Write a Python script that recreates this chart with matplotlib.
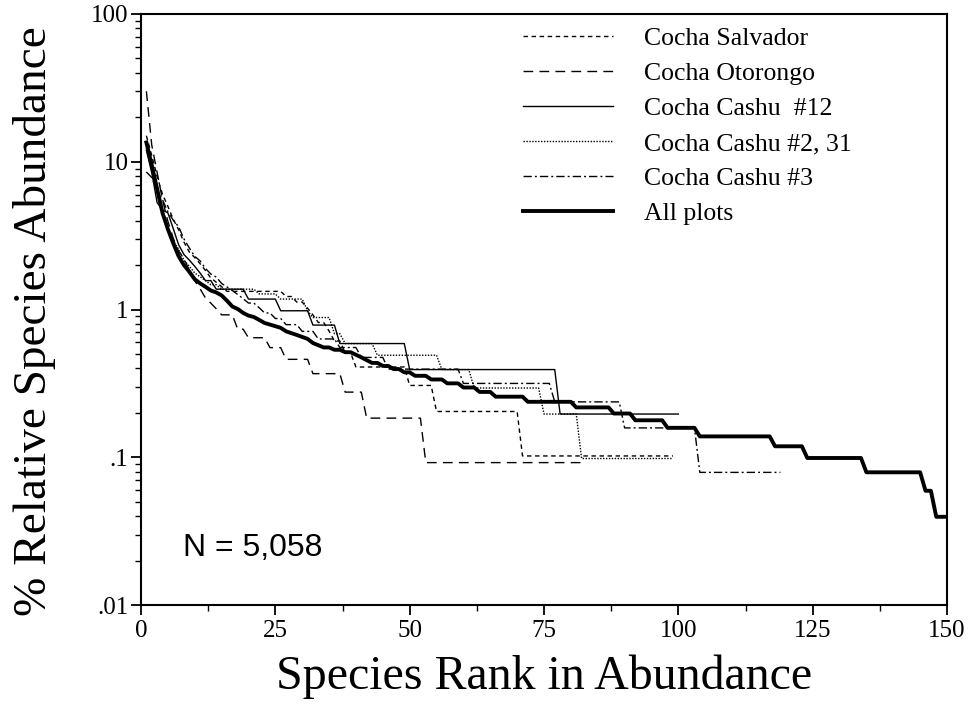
import matplotlib
matplotlib.use("Agg")
import matplotlib.pyplot as plt
import numpy as np
from matplotlib.ticker import FixedLocator, NullFormatter, MultipleLocator

# ---------------- data (individuals per species, ranked) ----------------
salvador_total = 980
salvador_counts = [147, 108, 78, 59, 49, 40, 34, 28, 24, 22,
                   20, 18, 16, 15, 14, 13, 13, 13, 13, 13,
                   13, 13, 13, 13, 13, 13, 12, 12, 11, 11,
                   10, 9, 8, 8, 7, 6, 6, 5, 5, 4,
                   4, 4, 4, 4, 4, 4, 4, 4, 4, 3,
                   3, 3, 3, 3, 2, 2, 2, 2, 2, 2,
                   2, 2, 2, 2, 2, 2, 2, 2, 2, 2,
                   1, 1, 1, 1, 1, 1, 1, 1, 1, 1,
                   1, 1, 1, 1, 1, 1, 1, 1, 1, 1,
                   1, 1, 1, 1, 1, 1, 1, 1, 1]

otorongo_total = 1087
otorongo_counts = [326, 141, 92, 60, 43, 33, 27, 24, 20, 17,
                   15, 13, 12, 11, 10, 10, 10, 8, 8, 7,
                   7, 7, 7, 6, 6, 6, 5, 5, 5, 5,
                   5, 4, 4, 4, 4, 4, 4, 3, 3, 3,
                   3, 2, 2, 2, 2, 2, 2, 2, 2, 2,
                   2, 2, 1, 1, 1, 1, 1, 1, 1, 1,
                   1, 1, 1, 1, 1, 1, 1, 1, 1, 1,
                   1, 1, 1, 1, 1, 1, 1, 1, 1, 1,
                   1, 1]

cashu12_total = 510
cashu12_counts = [61, 43, 27, 24, 23, 18, 14, 12, 11, 10,
                  9, 8, 8, 7, 7, 7, 7, 7, 7, 6,
                  6, 6, 6, 6, 6, 5, 5, 5, 5, 5,
                  5, 4, 4, 4, 4, 4, 3, 3, 3, 3,
                  3, 3, 3, 3, 3, 3, 3, 3, 3, 2,
                  2, 2, 2, 2, 2, 2, 2, 2, 2, 2,
                  2, 2, 2, 2, 2, 2, 2, 2, 2, 2,
                  2, 2, 2, 2, 2, 2, 2, 1, 1, 1,
                  1, 1, 1, 1, 1, 1, 1, 1, 1, 1,
                  1, 1, 1, 1, 1, 1, 1, 1, 1, 1]

cashu231_total = 1020
cashu231_counts = [133, 92, 66, 46, 36, 30, 26, 22, 20, 18,
                   17, 16, 15, 15, 14, 14, 14, 14, 14, 14,
                   14, 13, 13, 13, 13, 12, 12, 12, 12, 12,
                   10, 9, 9, 9, 9, 7, 7, 6, 6, 6,
                   6, 6, 6, 5, 5, 5, 5, 5, 5, 5,
                   5, 5, 5, 5, 5, 4, 4, 4, 4, 4,
                   4, 3, 3, 3, 3, 3, 3, 3, 3, 3,
                   3, 3, 3, 3, 2, 2, 2, 2, 2, 2,
                   2, 1, 1, 1, 1, 1, 1, 1, 1, 1,
                   1, 1, 1, 1, 1, 1, 1, 1, 1]

cashu3_total = 1266
cashu3_counts = [108, 99, 82, 70, 58, 51, 46, 38, 33, 29,
                 27, 24, 22, 21, 19, 18, 17, 16, 15, 14,
                 14, 13, 12, 12, 11, 11, 10, 10, 10, 9,
                 9, 9, 8, 8, 8, 8, 7, 7, 7, 7,
                 6, 6, 6, 6, 6, 5, 5, 5, 5, 5,
                 5, 5, 5, 5, 5, 5, 5, 5, 5, 4,
                 4, 4, 4, 4, 4, 4, 4, 4, 4, 4,
                 4, 4, 4, 4, 4, 4, 3, 3, 3, 3,
                 3, 3, 3, 3, 3, 3, 3, 3, 3, 2,
                 2, 2, 2, 2, 2, 2, 2, 2, 2, 2,
                 2, 2, 2, 1, 1, 1, 1, 1, 1, 1,
                 1, 1, 1, 1, 1, 1, 1, 1, 1]

all_total = 5058
all_counts = [683, 480, 330, 228, 177, 142, 116, 101, 91, 81,
              76, 72, 68, 66, 63, 58, 53, 51, 48, 46,
              45, 43, 41, 40, 39, 38, 36, 35, 34, 33,
              32, 30, 29, 28, 28, 27, 27, 26, 26, 25,
              24, 23, 22, 22, 21, 21, 20, 20, 19, 19,
              18, 18, 18, 17, 17, 17, 16, 16, 16, 15,
              15, 15, 14, 14, 14, 13, 13, 13, 13, 13,
              13, 12, 12, 12, 12, 12, 12, 12, 12, 12,
              11, 11, 11, 11, 11, 11, 11, 10, 10, 10,
              10, 9, 9, 9, 9, 9, 9, 8, 8, 8,
              8, 8, 8, 7, 7, 7, 7, 7, 7, 7,
              7, 7, 7, 7, 7, 7, 7, 6, 6, 6,
              6, 6, 6, 5, 5, 5, 5, 5, 5, 5,
              5, 5, 5, 5, 4, 4, 4, 4, 4, 4,
              4, 4, 4, 4, 4, 3, 3, 2, 2, 2]

series_labels = ["Cocha Salvador", "Cocha Otorongo", "Cocha Cashu  #12",
                 "Cocha Cashu #2, 31", "Cocha Cashu #3", "All plots"]
series_counts = [salvador_counts, otorongo_counts, cashu12_counts,
                 cashu231_counts, cashu3_counts, all_counts]
series_totals = [salvador_total, otorongo_total, cashu12_total,
                 cashu231_total, cashu3_total, all_total]

y_ticks = [0.01, 0.1, 1, 10, 100]
y_ticklabels = [".01", ".1", "1", "10", "100"]
x_ticks = [0, 25, 50, 75, 100, 125, 150]
n_label = "N = 5,058"

# ---------------- styles ----------------
styles = [
    dict(ls=(0, (3.2, 2.6)), lw=1.0),
    dict(ls=(0, (7, 4.5)), lw=1.0),
    dict(ls="-", lw=1.0),
    dict(ls=(0, (1.0, 1.1)), lw=1.0),
    dict(ls=(0, (6, 2.2, 1.4, 2.2)), lw=1.0),
    dict(ls="-", lw=2.8),
]

serif = ["Liberation Serif", "DejaVu Serif"]
plt.rcParams["font.family"] = serif

fig = plt.figure(figsize=(9.77, 7.11), dpi=100)
ax = fig.add_axes([141 / 977, 1 - 605 / 711, 806 / 977, 591 / 711])

for counts, total, lab, st in zip(series_counts, series_totals, series_labels, styles):
    c = np.asarray(counts, dtype=float)
    ranks = np.arange(1, len(c) + 1)
    ax.plot(ranks, 100.0 * c / total, color="black", label=lab,
            solid_joinstyle="round", **st)

ax.set_yscale("log")
ax.set_ylim(0.01, 100)
ax.set_xlim(0, 150)
ax.yaxis.set_major_locator(FixedLocator(y_ticks))
ax.set_yticklabels(y_ticklabels)
ax.yaxis.set_minor_formatter(NullFormatter())
ax.set_xticks(x_ticks)
ax.xaxis.set_minor_locator(MultipleLocator(12.5))

ax.tick_params(axis="both", which="major", direction="out", length=7, width=1.3,
               labelsize=18, pad=2)
ax.tick_params(axis="x", which="major", pad=4)
ax.tick_params(axis="both", which="minor", direction="out", length=4, width=1.0)
for sp in ax.spines.values():
    sp.set_linewidth(1.5)

ax.set_xlabel("Species Rank in Abundance", fontsize=34.5)
ax.xaxis.set_label_coords(0.5, -0.083)
ax.set_ylabel("% Relative Species Abundance", fontsize=34)
ax.yaxis.set_label_coords(-0.106, 0.48)

leg = ax.legend(loc="upper left", bbox_to_anchor=(0.474, 0.978), frameon=False,
                fontsize=18.5, handlelength=3.5, handletextpad=1.2,
                labelspacing=0.47, borderpad=0, borderaxespad=0)

ax.text(0.138, 0.097, n_label, transform=ax.transAxes, ha="center", va="center",
        fontsize=23, family=["Liberation Sans", "DejaVu Sans"])

fig.savefig("out.png", dpi=100)
